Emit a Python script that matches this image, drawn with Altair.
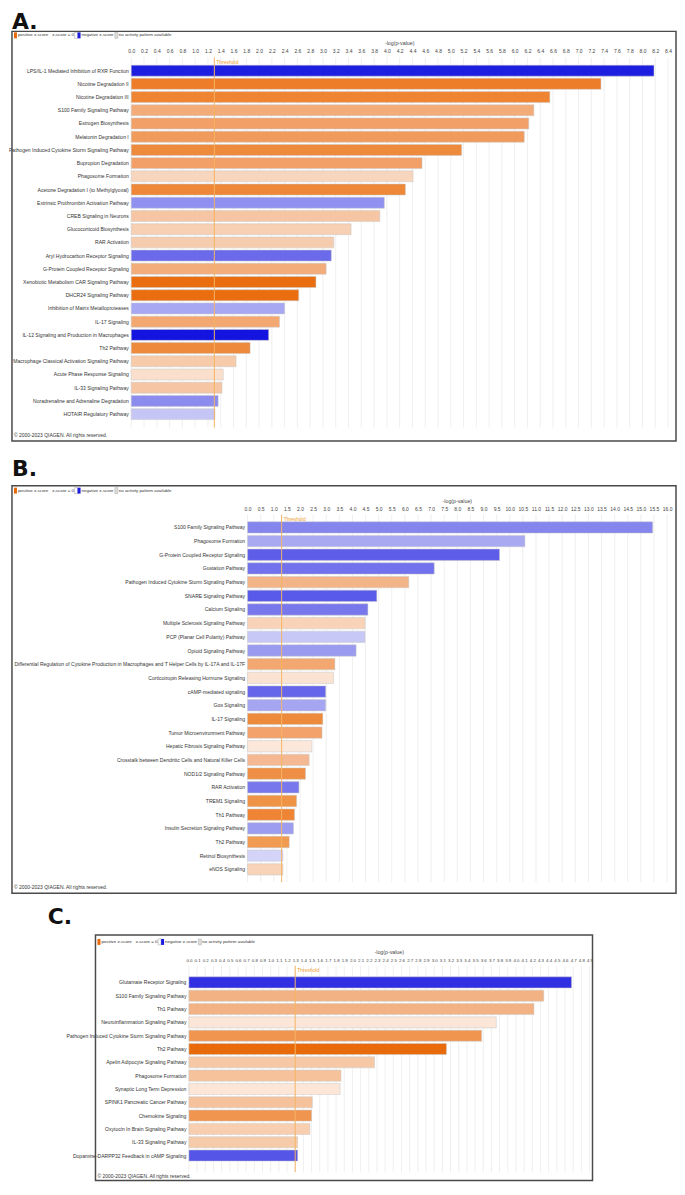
import altair as alt
import pandas as pd

# ---------------- data ----------------
A_PATHWAYS = [
    "LPS/IL-1 Mediated Inhibition of RXR Function",
    "Nicotine Degradation II",
    "Nicotine Degradation III",
    "S100 Family Signaling Pathway",
    "Estrogen Biosynthesis",
    "Melatonin Degradation I",
    "Pathogen Induced Cytokine Storm Signaling Pathway",
    "Bupropion Degradation",
    "Phagosome Formation",
    "Acetone Degradation I (to Methylglyoxal)",
    "Extrinsic Prothrombin Activation Pathway",
    "CREB Signaling in Neurons",
    "Glucocorticoid Biosynthesis",
    "RAR Activation",
    "Aryl Hydrocarbon Receptor Signaling",
    "G-Protein Coupled Receptor Signaling",
    "Xenobiotic Metabolism CAR Signaling Pathway",
    "DHCR24 Signaling Pathway",
    "Inhibition of Matrix Metalloproteases",
    "IL-17 Signaling",
    "IL-12 Signaling and Production in Macrophages",
    "Th2 Pathway",
    "Macrophage Classical Activation Signaling Pathway",
    "Acute Phase Response Signaling",
    "IL-33 Signaling Pathway",
    "Noradrenaline and Adrenaline Degradation",
    "HOTAIR Regulatory Pathway",
]
A_VALUES = [8.18, 7.35, 6.55, 6.30, 6.22, 6.15, 5.17, 4.55, 4.41, 4.29, 3.96, 3.89,
            3.44, 3.17, 3.13, 3.05, 2.89, 2.62, 2.40, 2.32, 2.15, 1.86, 1.64, 1.44,
            1.42, 1.36, 1.31]
A_COLORS = ["#1E1EE0", "#EE7D2A", "#EF8533", "#F3AB78", "#F2A068", "#F09A5C",
            "#EE8A3C", "#F2A068", "#F8D5BD", "#EE8838", "#9090F0", "#F6C6A4",
            "#F7CFB2", "#F6CCAE", "#6A6AEA", "#F3AD7A", "#EA6E10", "#EA6E10",
            "#A8A8F2", "#F2A870", "#1414E0", "#EE8A3C", "#F7CBAA", "#FADFCC",
            "#F6C6A4", "#8C8CEE", "#C5C5F6"]
A_TICKS = [0.0, 0.2, 0.4, 0.6, 0.8, 1.0, 1.2, 1.4, 1.6, 1.8, 2.0, 2.2, 2.4, 2.6,
           2.8, 3.0, 3.2, 3.4, 3.6, 3.8, 4.0, 4.2, 4.4, 4.6, 4.8, 5.0, 5.2, 5.4,
           5.6, 5.8, 6.0, 6.2, 6.4, 6.6, 6.8, 7.0, 7.2, 7.4, 7.6, 7.8, 8.0, 8.2, 8.4]

B_PATHWAYS = [
    "S100 Family Signaling Pathway",
    "Phagosome Formation",
    "G-Protein Coupled Receptor Signaling",
    "Gustation Pathway",
    "Pathogen Induced Cytokine Storm Signaling Pathway",
    "SNARE Signaling Pathway",
    "Calcium Signaling",
    "Multiple Sclerosis Signaling Pathway",
    "PCP (Planar Cell Polarity) Pathway",
    "Opioid Signaling Pathway",
    "Differential Regulation of Cytokine Production in Macrophages and T Helper Cells by IL-17A and IL-17F",
    "Corticotropin Releasing Hormone Signaling",
    "cAMP-mediated signaling",
    "Gαs Signaling",
    "IL-17 Signaling",
    "Tumor Microenvironment Pathway",
    "Hepatic Fibrosis Signaling Pathway",
    "Crosstalk between Dendritic Cells and Natural Killer Cells",
    "NOD1/2 Signaling Pathway",
    "RAR Activation",
    "TREM1 Signaling",
    "Th1 Pathway",
    "Insulin Secretion Signaling Pathway",
    "Th2 Pathway",
    "Retinol Biosynthesis",
    "eNOS Signaling",
]
B_VALUES = [15.45, 10.58, 9.61, 7.12, 6.15, 4.93, 4.59, 4.48, 4.48, 4.14, 3.33,
            3.28, 2.98, 2.98, 2.87, 2.84, 2.45, 2.35, 2.21, 1.96, 1.87, 1.79,
            1.75, 1.59, 1.35, 1.35]
B_COLORS = ["#8585EE", "#A9A9F2", "#5D5DEA", "#7272EC", "#F3B588", "#5A5AEA",
            "#7878EC", "#F8D3B8", "#C8C8F6", "#9A9AF0", "#F2A870", "#FAE3D3",
            "#6666EA", "#A5A5F2", "#EE8A3C", "#F2A26A", "#FBE8DB", "#F4B892",
            "#EF8F46", "#7878EC", "#EF9346", "#EE8434", "#9C9CF0", "#F09A52",
            "#D4D4F8", "#F8D3B8"]
B_TICKS = [0.0, 0.5, 1.0, 1.5, 2.0, 2.5, 3.0, 3.5, 4.0, 4.5, 5.0, 5.5, 6.0, 6.5,
           7.0, 7.5, 8.0, 8.5, 9.0, 9.5, 10.0, 10.5, 11.0, 11.5, 12.0, 12.5,
           13.0, 13.5, 14.0, 14.5, 15.0, 15.5, 16.0]

C_PATHWAYS = [
    "Glutamate Receptor Signaling",
    "S100 Family Signaling Pathway",
    "Th1 Pathway",
    "Neuroinflammation Signaling Pathway",
    "Pathogen Induced Cytokine Storm Signaling Pathway",
    "Th2 Pathway",
    "Apelin Adipocyte Signaling Pathway",
    "Phagosome Formation",
    "Synaptic Long Term Depression",
    "SPINK1 Pancreatic Cancer Pathway",
    "Chemokine Signaling",
    "Oxytocin In Brain Signaling Pathway",
    "IL-33 Signaling Pathway",
    "Dopamine-DARPP32 Feedback in cAMP Signaling",
]
C_VALUES = [4.68, 4.34, 4.22, 3.76, 3.58, 3.15, 2.27, 1.86, 1.85, 1.51, 1.50,
            1.48, 1.33, 1.33]
C_COLORS = ["#3030E2", "#F3B283", "#F3B283", "#FBE6D8", "#F09550", "#E86A0A",
            "#F6C8A6", "#F5C29C", "#FBE6D8", "#F5C29C", "#F09550", "#F7CEB0",
            "#F6CBA9", "#5555E8"]
C_TICKS = [0.0, 0.1, 0.2, 0.3, 0.4, 0.5, 0.6, 0.7, 0.8, 0.9, 1.0, 1.1, 1.2, 1.3,
           1.4, 1.5, 1.6, 1.7, 1.8, 1.9, 2.0, 2.1, 2.2, 2.3, 2.4, 2.5, 2.6, 2.7,
           2.8, 2.9, 3.0, 3.1, 3.2, 3.3, 3.4, 3.5, 3.6, 3.7, 3.8, 3.9, 4.0, 4.1,
           4.2, 4.3, 4.4, 4.5, 4.6, 4.7, 4.8, 4.9]

THRESHOLD = 1.3

LEGEND_TEXTS = ["positive z-score", "z-score = 0", "negative z-score",
                "no activity pattern available"]
AXIS_TITLE = "-log(p-value)"
COPYRIGHT = "© 2000-2023 QIAGEN. All rights reserved."

# ---------------- styling ----------------
FONT = "Liberation Sans"
SECTION_W = 670
PAD_INNER = 0.17
ONE = pd.DataFrame({"k": [0]})


def txt(s, x, y, size, color="#333333", align="left", baseline="middle",
        weight="normal", font=FONT):
    return alt.Chart(ONE).mark_text(
        text=s, fontSize=size, color=color, align=align, baseline=baseline,
        fontWeight=weight, font=font
    ).encode(x=alt.value(x), y=alt.value(y))


def rect(x, x2, y, y2, **kw):
    return alt.Chart(ONE).mark_rect(**kw).encode(
        x=alt.value(x), x2=alt.value(x2), y=alt.value(y), y2=alt.value(y2))


def panel(letter, letter_xy, pathways, values, colors, ticks, xmax,
          plot_left, plot_w, plot_top, step, c0, sec_h, box,
          legend_y, title_y, copy_y, tick_font=5.0):
    """All coordinates are in the section's own pixel frame."""
    n = len(pathways)
    p = c0 / step - (1 - PAD_INNER) / 2
    H = step * (n - PAD_INNER + 2 * p)
    bl, br, bt, bb = box

    xscale = alt.Scale(domain=[0, xmax], range=[plot_left, plot_left + plot_w],
                       nice=False, zero=False)
    xenc = alt.X(
        "value:Q", scale=xscale, title=None,
        axis=alt.Axis(
            orient="top", offset=-plot_top, values=ticks, format=".1f",
            labelFont=FONT, labelFontSize=tick_font, labelColor="#444444",
            ticks=False, tickSize=0, labelPadding=3.5, domain=False,
            grid=False, labelOverlap=False, labelFlush=False,
            labelBound=False, title=None,
        ),
    )

    df = pd.DataFrame({"pathway": pathways, "value": values, "color": colors})
    bars = alt.Chart(df).mark_bar(stroke="#c8c8c8", strokeWidth=0.5).encode(
        x=xenc,
        y=alt.Y(
            "pathway:N", sort=pathways, title=None,
            scale=alt.Scale(range=[plot_top, plot_top + H],
                            paddingInner=PAD_INNER, paddingOuter=p),
            axis=alt.Axis(title=None, ticks=False, domain=False,
                          orient="left", offset=-plot_left,
                          labelFont=FONT, labelFontSize=5.1,
                          labelColor="#333333", labelPadding=3,
                          labelLimit=500),
        ),
        color=alt.Color("color:N", scale=None),
    )

    grid = alt.Chart(pd.DataFrame({"value": ticks})).mark_rule(
        color="#e4e4e4", strokeWidth=0.6
    ).encode(x=xenc, y=alt.value(plot_top), y2=alt.value(plot_top + H))

    thr = pd.DataFrame({"value": [THRESHOLD]})
    rule = alt.Chart(thr).mark_rule(color="#F5B462", strokeWidth=1).encode(
        x=xenc, y=alt.value(plot_top), y2=alt.value(plot_top + H))
    thr_txt = alt.Chart(thr).mark_text(
        text="Threshold", align="left", dx=2, fontSize=5, color="#F0A030",
        font=FONT, baseline="middle").encode(x=xenc,
                                             y=alt.value(plot_top + 4.5))

    lg = 4.4
    layers = [
        rect(bl, br, bt, bb, fillOpacity=0, stroke="#4a4a4a", strokeWidth=1.5),
        grid, bars, rule, thr_txt,
        txt(letter, letter_xy[0], letter_xy[1], 22, color="#111111",
            baseline="middle", weight="bold", font="DejaVu Sans"),
        txt(AXIS_TITLE, plot_left + plot_w / 2, title_y, 5.3, color="#444444",
            align="center"),
        txt(COPYRIGHT, bl + 2, copy_y, 5, color="#333333"),
        # legend row
        rect(bl + 2, bl + 5, legend_y - 3, legend_y + 3, color="#E8690A"),
        txt(LEGEND_TEXTS[0], bl + 6, legend_y, lg),
        txt(LEGEND_TEXTS[1], bl + 40.5, legend_y, lg),
        rect(bl + 63, bl + 66, legend_y - 3, legend_y + 3,
             color="#ffffff", stroke="#999999", strokeWidth=0.5),
        rect(bl + 66, bl + 69, legend_y - 3, legend_y + 3, color="#1C1CE0"),
        txt(LEGEND_TEXTS[2], bl + 70, legend_y, lg),
        rect(bl + 103.5, bl + 106.5, legend_y - 3, legend_y + 3,
             color="#dddddd", stroke="#aaaaaa", strokeWidth=0.5),
        txt(LEGEND_TEXTS[3], bl + 107.5, legend_y, lg),
    ]
    return alt.layer(*layers).properties(width=SECTION_W, height=sec_h)


pA = panel("A.", (1, 11), A_PATHWAYS, A_VALUES, A_COLORS, A_TICKS, 8.4,
           plot_left=121, plot_w=540, plot_top=46, step=13.29, c0=13.5,
           sec_h=446, box=(1, 669, 20, 432), legend_y=24, title_y=32,
           copy_y=426)
pB = panel("B.", (1, 14), B_PATHWAYS, B_VALUES, B_COLORS, B_TICKS, 16.0,
           plot_left=238, plot_w=422, plot_top=60, step=13.76, c0=13.0,
           sec_h=442, box=(1, 669, 31, 441), legend_y=36, title_y=46,
           copy_y=435)
pC = panel("C.", (37, 23), C_PATHWAYS, C_VALUES, C_COLORS, C_TICKS, 4.9,
           plot_left=179, plot_w=403, plot_top=72, step=13.4, c0=16.7,
           sec_h=289, box=(85, 585, 41, 288), legend_y=48, title_y=58,
           copy_y=283, tick_font=4.4)

chart = alt.vconcat(pA, pB, pC, spacing=0, bounds="flush").properties(
    padding=0, background="white"
).configure_view(strokeWidth=0)

chart.save("out.html", embed_options={"renderer": "svg", "actions": False})
